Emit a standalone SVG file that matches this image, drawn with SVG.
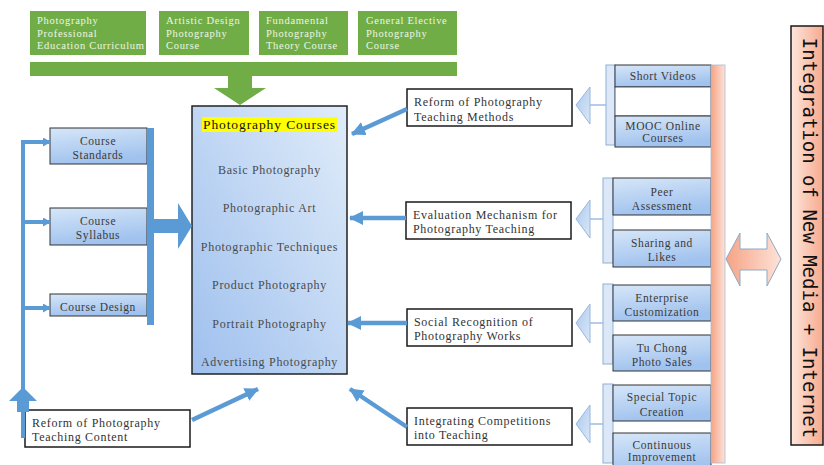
<svg xmlns="http://www.w3.org/2000/svg" width="824" height="465" viewBox="0 0 824 465">
<defs>
<style>
text{font-family:"Liberation Serif","Times New Roman",serif;}
.gt{font-size:10.5px;fill:#eef5e6;letter-spacing:0.7px;}
.gb{fill:#70ad47;}
.mt{font-size:12px;fill:#4a4a4a;letter-spacing:0.7px;text-anchor:middle;}
.bt{font-size:12px;fill:#333;letter-spacing:0.7px;}
.st{font-size:11.5px;fill:#3a3a3a;letter-spacing:0.6px;text-anchor:middle;}
.wb{fill:#fff;stroke:#1a1a1a;stroke-width:1.5;}
.sb{fill:url(#gBox);stroke:#333;stroke-width:1;}
.lb{fill:#dce8f7;stroke:#8fb0d6;stroke-width:1;}
.tri{fill:url(#gTri);stroke:#9ab8da;stroke-width:1;}
.tl{stroke:#9dbde0;stroke-width:1.5;}
.ar{stroke:#5b9bd5;stroke-width:4.5;fill:none;marker-end:url(#ah);}
.blue{fill:#5b9bd5;}
</style>
<linearGradient id="gBox" x1="0" y1="0" x2="0.3" y2="1">
<stop offset="0" stop-color="#d6e6f8"/><stop offset="1" stop-color="#a0c2ee"/>
</linearGradient>
<linearGradient id="gMain" x1="1" y1="0" x2="0" y2="1">
<stop offset="0" stop-color="#e0ecf9"/><stop offset="1" stop-color="#9fc0ee"/>
</linearGradient>
<linearGradient id="gTri" x1="0" y1="0" x2="1" y2="1">
<stop offset="0" stop-color="#a9c8ef"/><stop offset="1" stop-color="#dce8f7"/>
</linearGradient>
<linearGradient id="gOr" x1="0" y1="0" x2="1" y2="0">
<stop offset="0" stop-color="#f6a385"/><stop offset="1" stop-color="#fde3d8"/>
</linearGradient>
<linearGradient id="gBig" x1="0" y1="0" x2="1" y2="0">
<stop offset="0" stop-color="#fde6dc"/><stop offset="1" stop-color="#f7aa8e"/>
</linearGradient>
<marker id="ah" markerUnits="userSpaceOnUse" markerWidth="14" markerHeight="14" refX="13" refY="7" orient="auto">
<path d="M0,0 L14,7 L0,14 z" fill="#5b9bd5"/>
</marker>
<marker id="sh" markerUnits="userSpaceOnUse" markerWidth="8" markerHeight="9" refX="7" refY="4.5" orient="auto">
<path d="M0,0 L8,4.5 L0,9 z" fill="#5b9bd5"/>
</marker>
</defs>

<!-- Top green curricula -->
<g id="green1"><rect class="gb" x="30" y="11" width="116" height="44"/>
<text class="gt" x="37" y="24">Photography</text><text class="gt" x="37" y="36.5">Professional</text><text class="gt" x="37" y="49">Education Curriculum</text></g>
<g id="green2"><rect class="gb" x="159" y="11" width="90" height="44"/>
<text class="gt" x="166" y="24">Artistic Design</text><text class="gt" x="166" y="36.5">Photography</text><text class="gt" x="166" y="49">Course</text></g>
<g id="green3"><rect class="gb" x="259" y="11" width="89" height="44"/>
<text class="gt" x="266" y="24">Fundamental</text><text class="gt" x="266" y="36.5">Photography</text><text class="gt" x="266" y="49">Theory Course</text></g>
<g id="green4"><rect class="gb" x="358" y="11" width="99" height="44"/>
<text class="gt" x="366" y="24">General Elective</text><text class="gt" x="366" y="36.5">Photography</text><text class="gt" x="366" y="49">Course</text></g>
<g id="greenbar"><rect class="gb" x="30" y="62" width="427" height="14"/></g>

<!-- Main box -->
<g id="main">
<rect x="192" y="106" width="155" height="268" fill="url(#gMain)" stroke="#222" stroke-width="1.5"/>
<rect x="202" y="117" width="135" height="15" fill="#ffff00"/>
<text x="269.5" y="129" font-size="13.5" fill="#111" letter-spacing="0.9" text-anchor="middle">Photography Courses</text>
<text class="mt" x="269.5" y="174">Basic Photography</text>
<text class="mt" x="269.5" y="212">Photographic Art</text>
<text class="mt" x="269.5" y="251">Photographic Techniques</text>
<text class="mt" x="269.5" y="289">Product Photography</text>
<text class="mt" x="269.5" y="328">Portrait Photography</text>
<text class="mt" x="269.5" y="366">Advertising Photography</text>
</g>

<!-- Left nodes -->
<g id="courseStandards"><rect class="sb" x="50" y="128" width="97" height="36"/>
<text class="st" x="98" y="145">Course</text><text class="st" x="98" y="159">Standards</text></g>
<g id="courseSyllabus"><rect class="sb" x="50" y="208" width="97" height="37"/>
<text class="st" x="98" y="225">Course</text><text class="st" x="98" y="239">Syllabus</text></g>
<g id="courseDesign"><rect class="sb" x="50" y="294" width="97" height="22"/>
<text class="st" x="98" y="311">Course Design</text></g>
<g id="contentReform"><rect class="wb" x="25" y="410" width="165" height="37"/>
<text class="bt" x="32" y="427">Reform of Photography</text><text class="bt" x="32" y="441">Teaching Content</text></g>

<!-- Right middle nodes -->
<g id="methods"><rect class="wb" x="407" y="89" width="165" height="37"/>
<text class="bt" x="414" y="106">Reform of Photography</text><text class="bt" x="414" y="121">Teaching Methods</text></g>
<g id="evaluation"><rect class="wb" x="406" y="202" width="165" height="37"/>
<text class="bt" x="413" y="219">Evaluation Mechanism for</text><text class="bt" x="413" y="233">Photography Teaching</text></g>
<g id="social"><rect class="wb" x="407" y="309" width="165" height="37"/>
<text class="bt" x="414" y="326">Social Recognition of</text><text class="bt" x="414" y="340">Photography Works</text></g>
<g id="competitions"><rect class="wb" x="407" y="408" width="165" height="37"/>
<text class="bt" x="414" y="425">Integrating Competitions</text><text class="bt" x="414" y="439">into Teaching</text></g>

<!-- Right small groups -->
<g id="group1">
<rect class="lb" x="606" y="65" width="9" height="80"/>
<rect class="sb" x="615" y="65" width="96" height="22"/>
<text class="st" x="663" y="80">Short Videos</text>
<rect x="615" y="87" width="96" height="29" fill="#fff" stroke="#333" stroke-width="0.8"/>
<rect class="sb" x="615" y="116" width="96" height="31"/>
<text class="st" x="663" y="130" font-size="9.5">MOOC Online</text><text class="st" x="663" y="142" font-size="9.5">Courses</text>
<polygon class="tri" points="576,105 590,87 590,124"/>
</g>
<g id="group2">
<rect class="lb" x="603" y="178" width="10" height="85"/>
<rect class="sb" x="613" y="178" width="98" height="37"/>
<text class="st" x="662" y="196">Peer</text><text class="st" x="662" y="210">Assessment</text>
<rect class="sb" x="613" y="230" width="98" height="37"/>
<text class="st" x="662" y="247">Sharing and</text><text class="st" x="662" y="261">Likes</text>
<polygon class="tri" points="576,219 590,200 590,238"/>
</g>
<g id="group3">
<rect class="lb" x="603" y="284" width="10" height="80"/>
<rect class="sb" x="613" y="285" width="98" height="36"/>
<text class="st" x="662" y="302">Enterprise</text><text class="st" x="662" y="316">Customization</text>
<rect class="sb" x="613" y="335" width="98" height="36"/>
<text class="st" x="662" y="352">Tu Chong</text><text class="st" x="662" y="366">Photo Sales</text>
<polygon class="tri" points="576,323 590,304 590,343"/>
</g>
<g id="group4">
<rect class="lb" x="603" y="384" width="10" height="79"/>
<rect class="sb" x="613" y="385" width="98" height="36"/>
<text class="st" x="662" y="401">Special Topic</text><text class="st" x="662" y="416">Creation</text>
<rect class="sb" x="613" y="433" width="98" height="40"/>
<text class="st" x="662" y="449">Continuous</text><text class="st" x="662" y="461">Improvement</text>
<polygon class="tri" points="576,424 590,405 590,443"/>
</g>
<g id="orangeBar"><rect x="711" y="65" width="14" height="398" fill="url(#gOr)" stroke="#a9bcd6" stroke-width="0.8"/></g>
<g id="integration">
<rect x="791" y="26" width="32" height="419" fill="url(#gBig)" stroke="#1a1a1a" stroke-width="1.5"/>
<text x="238" y="0" transform="translate(803,0) rotate(90)" font-size="19" fill="#111" text-anchor="middle" style="font-family:'DejaVu Sans Mono',monospace">Integration of New Media + Internet</text>
</g>

<!-- Connectors -->
<g id="connectors">
<polygon class="gb" points="228,76 252,76 252,88 266,88 240,105 214,88 228,88"/>
<rect class="blue" x="147" y="128" width="7" height="197"/>
<polygon class="blue" points="154,219 178,219 178,203 192,226 178,249 178,233 154,233"/>
<rect class="blue" x="21" y="140" width="4" height="298"/>
<line x1="21" y1="142" x2="50" y2="142" stroke="#5b9bd5" stroke-width="4" marker-end="url(#sh)"/>
<line x1="23" y1="222" x2="50" y2="222" stroke="#5b9bd5" stroke-width="4" marker-end="url(#sh)"/>
<line x1="23" y1="308" x2="50" y2="308" stroke="#5b9bd5" stroke-width="4" marker-end="url(#sh)"/>
<polygon class="blue" points="9,401 23,387 37,401 29,401 29,412 17,412 17,401"/>
<line class="ar" x1="192" y1="420" x2="258" y2="389"/>
<line class="ar" x1="407" y1="109" x2="352" y2="134"/>
<line class="ar" x1="406" y1="218" x2="350" y2="218"/>
<line class="ar" x1="407" y1="323" x2="348" y2="323"/>
<line class="ar" x1="407" y1="427" x2="350" y2="389"/>
<line class="tl" x1="590" y1="105" x2="606" y2="105"/>
<line class="tl" x1="590" y1="219" x2="603" y2="219"/>
<line class="tl" x1="590" y1="323" x2="603" y2="323"/>
<line class="tl" x1="590" y1="424" x2="603" y2="424"/>
<polygon points="726,259 740,233 740,249 767,249 767,233 781,259 767,286 767,270 740,270 740,286" fill="url(#gOr)" stroke="#8fa9c6" stroke-width="1"/>
</g>
</svg>
